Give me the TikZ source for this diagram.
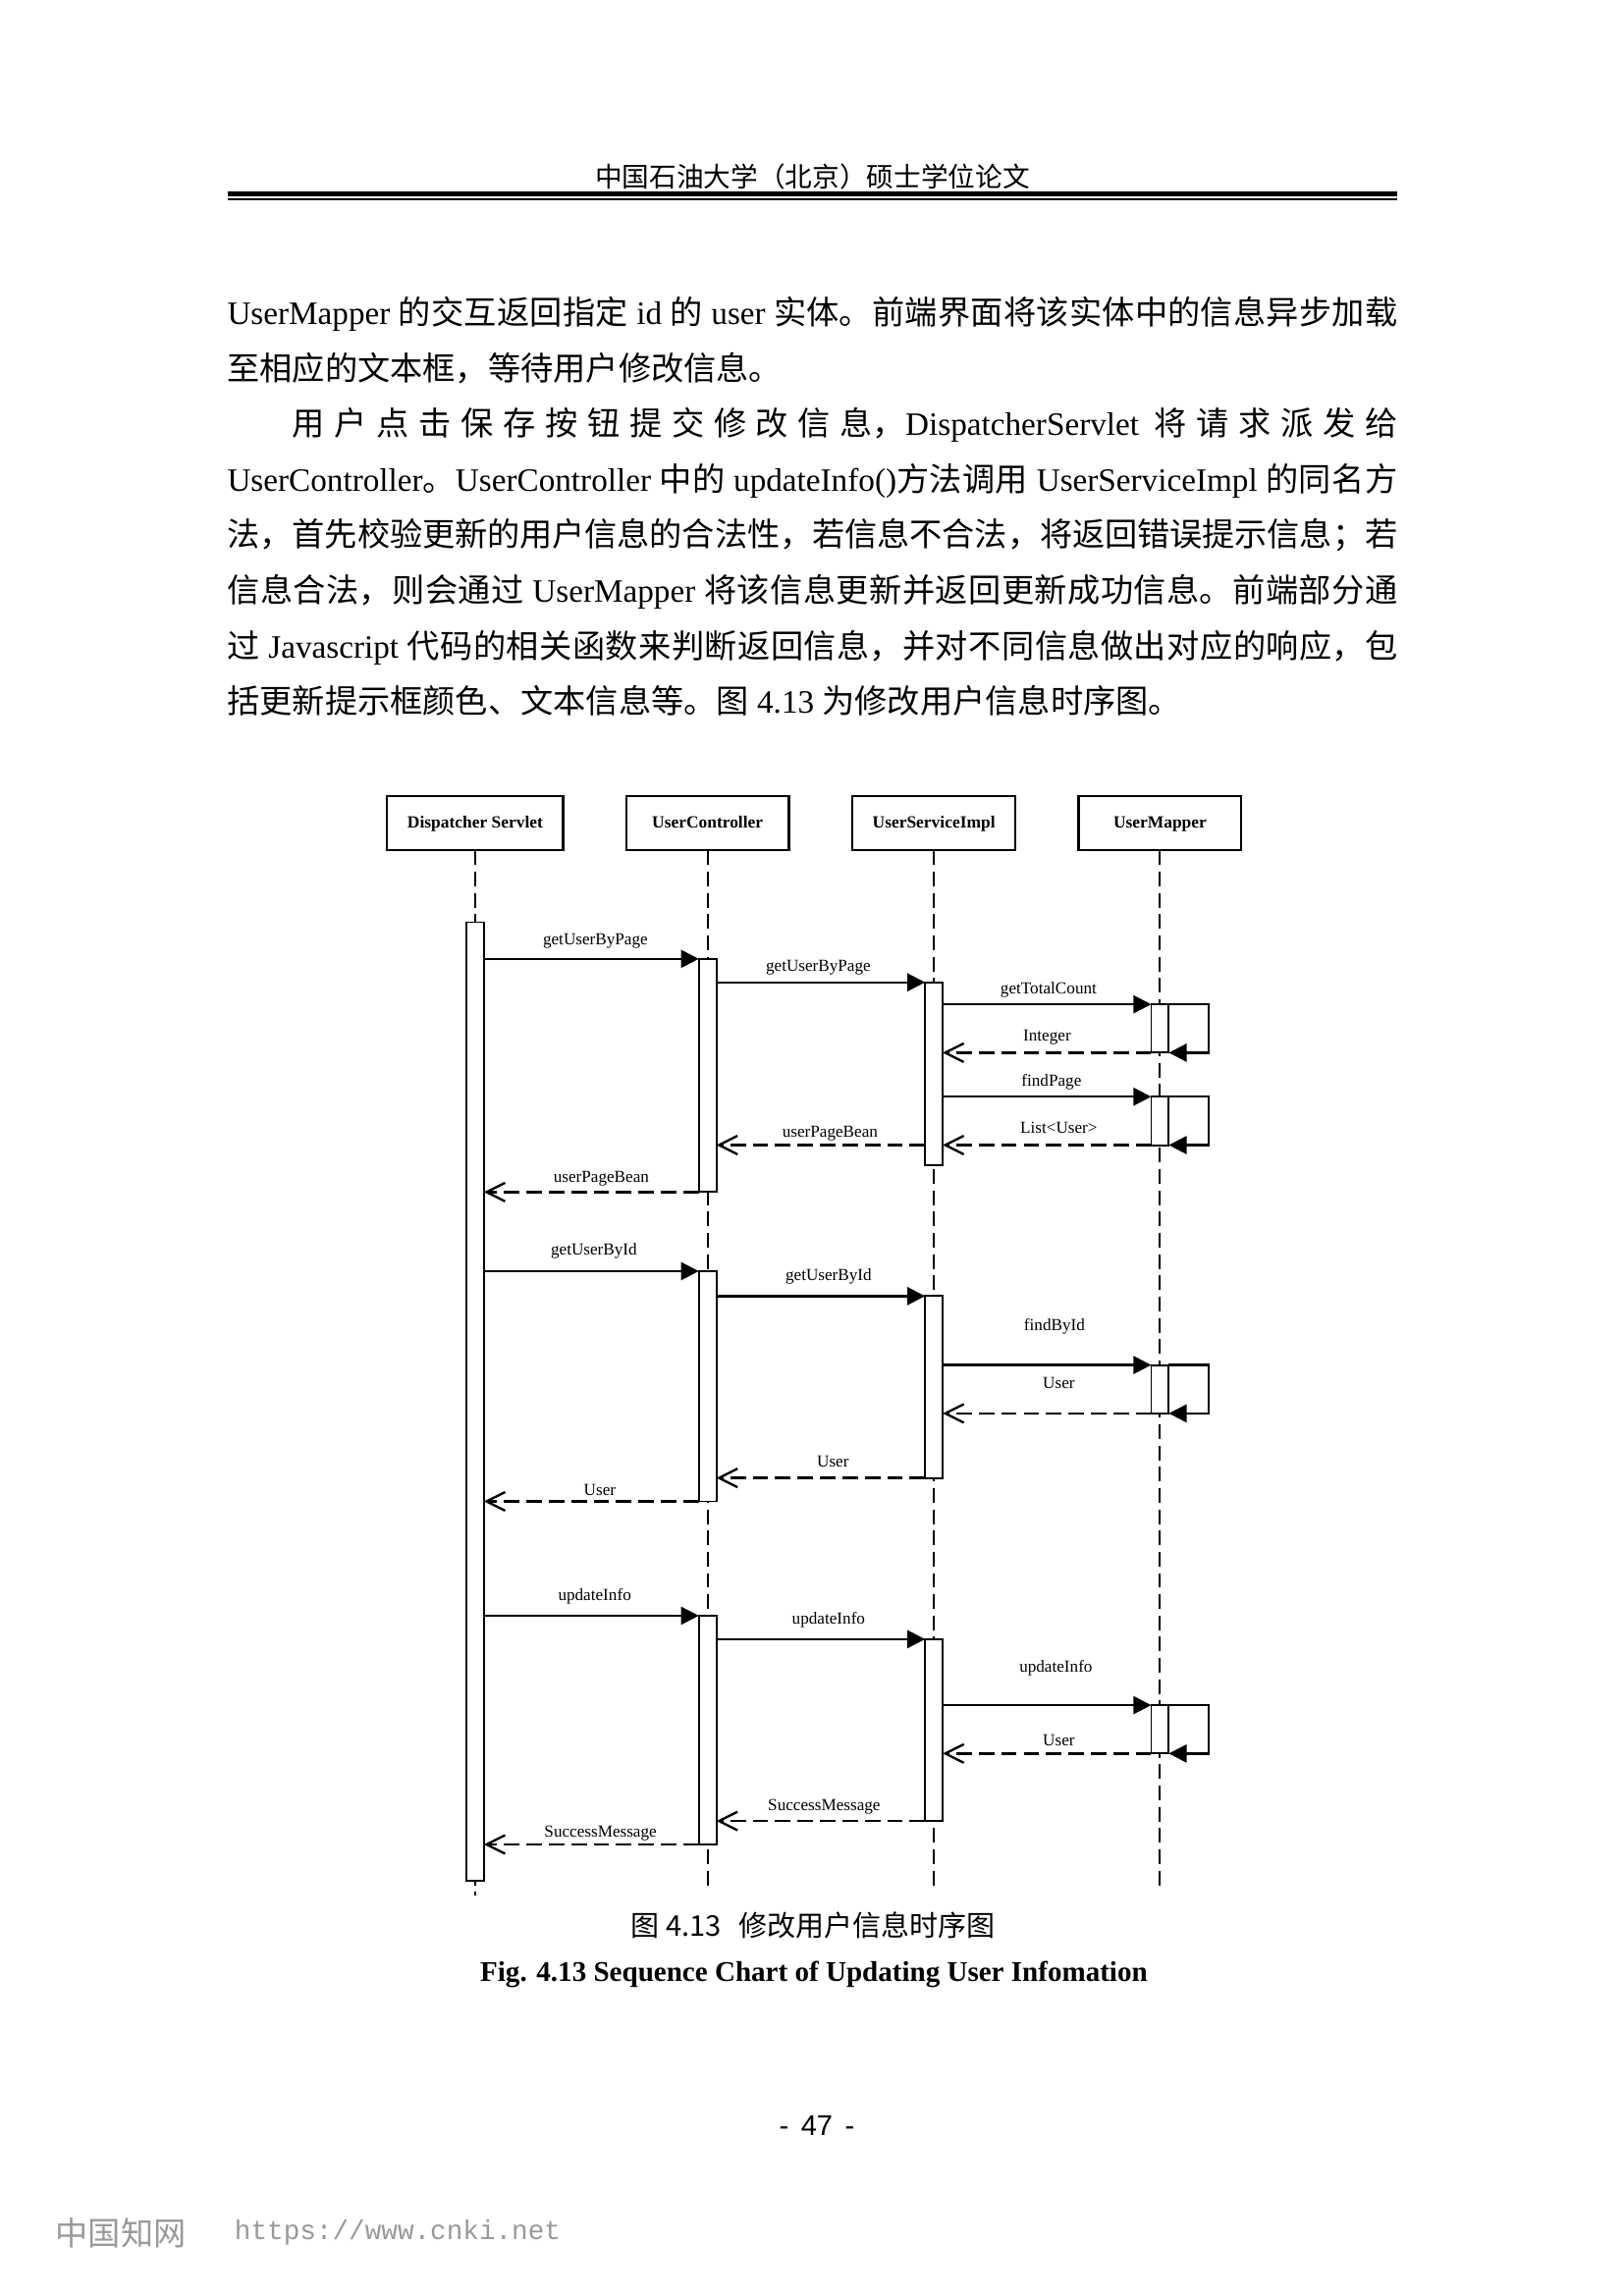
\documentclass[tikz,border=0pt]{standalone}
\usepackage{fontspec}
\setmainfont{Liberation Serif}
\setsansfont{Liberation Sans}
\setmonofont{Liberation Mono}
\newfontfamily\cjk{Noto Sans CJK SC}
\usetikzlibrary{arrows.meta}
\XeTeXlinebreaklocale "zh"
\XeTeXlinebreakskip=0pt plus 2pt minus 0.2pt
\begin{document}
\begin{tikzpicture}[x=0.1897mm, y=-0.1897mm,
  every node/.style={inner sep=0pt, outer sep=0pt},
  actor/.style={draw, line width=0.8pt, fill=white, minimum height=37*0.1897mm, text height=4.5pt, text depth=1.3pt, font=\bfseries\fontsize{6.3pt}{7.5pt}\selectfont},
  actbar/.style={draw, line width=0.7pt, fill=white, minimum width=12*0.1897mm, anchor=north},
  lifeline/.style={line width=0.7pt, dash pattern=on 1.9mm off 0.85mm},
  msgline/.style={line width=0.85pt, -{Triangle[length=2.3mm,width=2.3mm]}},
  retline/.style={line width=0.85pt, dash pattern=on 2mm off 0.9mm, -{Straight Barb[length=2.4mm,width=2.4mm]}},
  lbl/.style={font=\fontsize{6.2pt}{7pt}\selectfont},
]
\fill[white] (0,0) rectangle (1107,1566);
\useasboundingbox (0,0) rectangle (1107,1566);

% header
\node (hdr) at (554,120.5) {\cjk\fontsize{10pt}{12pt}\selectfont 中国石油大学（北京）硕士学位论文};
\draw[line width=3.4*0.1897mm] (155,132.3) -- (953,132.3);
\draw[line width=1.5*0.1897mm] (155,135.9) -- (953,135.9);

% body text
\node[anchor=base west, text width=151.38mm, align=justify,
      font=\fontsize{12pt}{20.43pt}\selectfont] (body) at (155,221.5) {%
\tolerance=10000\hbadness=10000\hyphenpenalty=10000\emergencystretch=0pt
\noindent UserMapper {\cjk 的交互返回指定} id {\cjk 的} user {\cjk 实体。前端界面将该实体中的信息异步加载}\linebreak
{\cjk 至相应的文本框，等待用户修改信息。}\par
\noindent\hspace*{2em}{\cjk 用户点击保存按钮提交修改信息，}DispatcherServlet {\cjk 将请求派发给}\linebreak
UserController{\cjk 。}UserController {\cjk 中的} updateInfo(){\cjk 方法调用} UserServiceImpl {\cjk 的同名方}\linebreak
{\cjk 法，首先校验更新的用户信息的合法性，若信息不合法，将返回错误提示信息；若}\linebreak
{\cjk 信息合法，则会通过} UserMapper {\cjk 将该信息更新并返回更新成功信息。前端部分通}\linebreak
{\cjk 过} Javascript {\cjk 代码的相关函数来判断返回信息，并对不同信息做出对应的响应，包}\linebreak
{\cjk 括更新提示框颜色、文本信息等。图} 4.13 {\cjk 为修改用户信息时序图。}\par};

% participants
\node[actor, minimum width=120*0.1897mm] (pD) at (324,561.5) {Dispatcher Servlet};
\node[actor, minimum width=111*0.1897mm] (pUC) at (482.5,561.5) {UserController};
\node[actor, minimum width=111*0.1897mm] (pUSI) at (636.8,561.5) {UserServiceImpl};
\node[actor, minimum width=111*0.1897mm] (pUM) at (791,561.5) {UserMapper};

% lifelines
\coordinate (eD) at (324,1293);
\coordinate (eUC) at (482.5,1290);
\coordinate (eUSI) at (636.8,1290);
\coordinate (eUM) at (791,1290);
\draw[lifeline] (pD.south) -- (eD);
\draw[lifeline] (pUC.south) -- (eUC);
\draw[lifeline] (pUSI.south) -- (eUSI);
\draw[lifeline] (pUM.south) -- (eUM);

% activation bars
\node[actbar, minimum height=654*0.1897mm] (bD) at (324,629) {};
\node[actbar, minimum height=159*0.1897mm] (bUC1) at (482.5,654) {};
\node[actbar, minimum height=125*0.1897mm] (bUSI1) at (636.8,670) {};
\node[actbar, minimum height=33*0.1897mm] (bUM1) at (791,685) {};
\node[actbar, minimum height=33*0.1897mm] (bUM2) at (791,748) {};
\node[actbar, minimum height=157*0.1897mm] (bUC2) at (482.5,867) {};
\node[actbar, minimum height=124*0.1897mm] (bUSI2) at (636.8,884) {};
\node[actbar, minimum height=33*0.1897mm] (bUM3) at (791,931) {};
\node[actbar, minimum height=156*0.1897mm] (bUC3) at (482.5,1102) {};
\node[actbar, minimum height=124*0.1897mm] (bUSI3) at (636.8,1118) {};
\node[actbar, minimum height=33*0.1897mm] (bUM4) at (791,1163) {};

% ---- group 1
\draw[msgline] (bD.east |- bUC1.north) -- (bUC1.north west);
\node[lbl] (l1) at (406,642) {getUserByPage};
\draw[msgline] (bUC1.east |- bUSI1.north) -- (bUSI1.north west);
\node[lbl] (l2) at (558,660) {getUserByPage};
\draw[msgline] (bUSI1.east |- bUM1.north) -- (bUM1.north west);
\node[lbl] (l3) at (715,675) {getTotalCount};
\draw[msgline] (bUM1.north east) -- ++(27,0) -- ++(0,33) -- (bUM1.south east);
\draw[retline] (bUM1.south west) -- (bUSI1.east |- bUM1.south);
\node[lbl] (l4) at (714,707.5) {Integer};
\draw[msgline] (bUSI1.east |- bUM2.north) -- (bUM2.north west);
\node[lbl] (l5) at (717,738) {findPage};
\draw[msgline] (bUM2.north east) -- ++(27,0) -- ++(0,33) -- (bUM2.south east);
\draw[retline] (bUM2.south west) -- (bUSI1.east |- bUM2.south);
\node[lbl] (l6) at (722,769) {List<User>};
\draw[retline] (bUSI1.west |- bUM2.south) -- (bUC1.east |- bUM2.south);
\node[lbl] (l7) at (566,773) {userPageBean};
\draw[retline] (bUC1.south west) -- (bD.east |- bUC1.south);
\node[lbl] (l8) at (410,804) {userPageBean};

% ---- group 2
\draw[msgline] (bD.east |- bUC2.north) -- (bUC2.north west);
\node[lbl] (l9) at (405,853) {getUserById};
\draw[msgline] (bUC2.east |- bUSI2.north) -- (bUSI2.north west);
\node[lbl] (l10) at (565,870.5) {getUserById};
\draw[msgline] (bUSI2.east |- bUM3.north) -- (bUM3.north west);
\node[lbl] (l11) at (719,904.5) {findById};
\draw[msgline] (bUM3.north east) -- ++(27,0) -- ++(0,33) -- (bUM3.south east);
\draw[retline] (bUM3.south west) -- (bUSI2.east |- bUM3.south);
\node[lbl] (l12) at (722,943.5) {User};
\draw[retline] (bUSI2.south west) -- (bUC2.east |- bUSI2.south);
\node[lbl] (l13) at (568,997) {User};
\draw[retline] (bUC2.south west) -- (bD.east |- bUC2.south);
\node[lbl] (l14) at (409,1016) {User};

% ---- group 3
\draw[msgline] (bD.east |- bUC3.north) -- (bUC3.north west);
\node[lbl] (l15) at (405.5,1088.7) {updateInfo};
\draw[msgline] (bUC3.east |- bUSI3.north) -- (bUSI3.north west);
\node[lbl] (l16) at (565,1104.8) {updateInfo};
\draw[msgline] (bUSI3.east |- bUM4.north) -- (bUM4.north west);
\node[lbl] (l17) at (720,1137.4) {updateInfo};
\draw[msgline] (bUM4.north east) -- ++(27,0) -- ++(0,33) -- (bUM4.south east);
\draw[retline] (bUM4.south west) -- (bUSI3.east |- bUM4.south);
\node[lbl] (l18) at (722,1187) {User};
\draw[retline] (bUSI3.south west) -- (bUC3.east |- bUSI3.south);
\node[lbl] (l19) at (562,1232.3) {SuccessMessage};
\draw[retline] (bUC3.south west) -- (bD.east |- bUC3.south);
\node[lbl] (l20) at (409.5,1250.6) {SuccessMessage};

% captions
\node (capcn) at (554.5,1313) {\cjk\fontsize{10.5pt}{12pt}\selectfont 图 4.13\hspace{2.2mm}修改用户信息时序图};
\node (capen) at (555,1346.5) {\bfseries\fontsize{10.5pt}{12pt}\selectfont Fig. 4.13 Sequence Chart of Updating User Infomation};
\node (pageno) at (557,1450) {\sffamily\fontsize{10.5pt}{12pt}\selectfont -\hspace{1.6mm}47\hspace{1.6mm}-};

% watermark
\node[anchor=west, text=black!40] (wm1) at (38,1523) {\cjk\fontsize{12pt}{14pt}\selectfont 中国知网};
\node[anchor=west, text=black!40] (wm2) at (160,1523) {\ttfamily\fontsize{10pt}{12pt}\selectfont https://www.cnki.net};
\end{tikzpicture}
\end{document}
